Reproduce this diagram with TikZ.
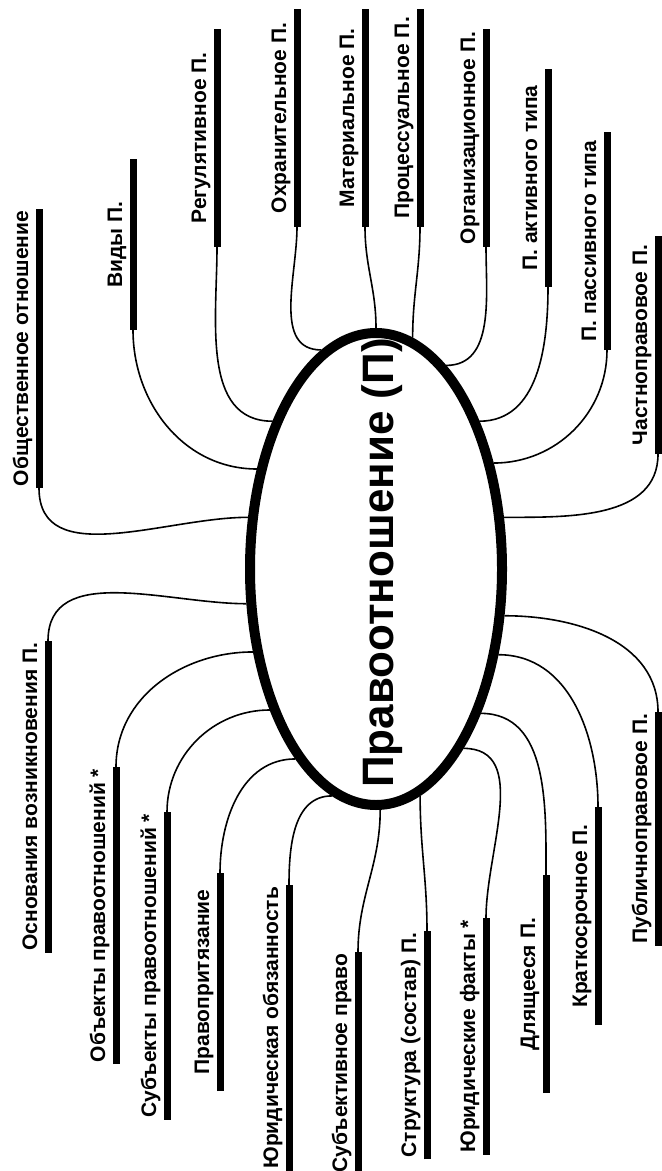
\documentclass[tikz,border=0pt]{standalone}
\usepackage{fontspec}
\setmainfont{Liberation Sans}
\usetikzlibrary{shapes.geometric}

\begin{document}
\begin{tikzpicture}[x=0.5pt,y=0.5pt,
  topic/.style={rotate=90,font=\bfseries\fontsize{10.5}{12}\selectfont,inner xsep=1pt,inner ysep=5.5pt,text depth=0pt,minimum width=109pt,outer sep=0pt},
  hub/.style={draw,ellipse,line width=5pt,minimum width=126pt,minimum height=236pt},
  bar/.style={line width=3.5pt},
  link/.style={line width=0.8pt}]
\useasboundingbox (0,0) rectangle (662,-1171);

\node[hub] (pravo) at (376,-569) {}; %centre
\node[rotate=90,font=\bfseries\fontsize{22}{26}\selectfont] (pravotitle) at (382,-563) {Правоотношение (П)};

% upper branches
\node[topic,anchor=south west] (obsch) at (39,-488) {Общественное отношение};
\node[topic,anchor=south west,minimum width=85.5pt] (vidy) at (133,-330) {Виды П.};
\node[topic,anchor=south west] (regul) at (217,-247) {Регулятивное П.};
\node[topic,anchor=south west] (ohran) at (297,-227) {Охранительное П.};
\node[topic,anchor=south west] (mater) at (365,-227) {Материальное П.};
\node[topic,anchor=south west] (proc) at (420,-227) {Процессуальное П.};
\node[topic,anchor=south west] (org) at (486,-247) {Организационное П.};
\node[topic,anchor=south west] (aktiv) at (548,-287) {П. активного типа};
\node[topic,anchor=south west] (passiv) at (607,-350) {П. пассивного типа};
\node[topic,anchor=south west] (chastn) at (658,-454) {Частноправовое П.};

% lower branches
\node[topic,anchor=south east] (osnov) at (48,-641) {Основания возникновения П.};
\node[topic,anchor=south east] (obekt) at (116,-767) {Объекты правоотношений *};
\node[topic,anchor=south east] (subekt) at (167,-812) {Субъекты правоотношений *};
\node[topic,anchor=south east] (prityaz) at (220,-873) {Правопритязание};
\node[topic,anchor=south east] (obyaz) at (289,-885) {Юридическая обязанность};
\node[topic,anchor=south east] (subpravo) at (358,-952) {Субъективное право};
\node[topic,anchor=south east] (struct) at (427,-931) {Структура (состав) П.};
\node[topic,anchor=south east] (fakty) at (486,-918) {Юридические факты *};
\node[topic,anchor=south east] (dlyasch) at (546,-875) {Длящееся П.};
\node[topic,anchor=south east] (kratk) at (598,-807) {Краткосрочное П.};
\node[topic,anchor=south east] (publ) at (658,-712) {Публичноправовое П.};

% underlines
\foreach \t in {obsch,vidy,regul,ohran,mater,proc,org,aktiv,passiv,chastn,
  osnov,obekt,subekt,prityaz,obyaz,subpravo,struct,fakty,dlyasch,kratk,publ}
  \draw[bar] (\t.south west) -- (\t.south east);

% links up
\draw[link] (obsch.south west) to[out=-90,in=180] (pravo.158);
\draw[link] (vidy.south west) to[out=-90,in=180] (pravo.140);
\draw[link] (regul.south west) to[out=-90,in=180] (pravo.125);
\draw[link] (ohran.south west) to[out=-90,in=180] (pravo.104);
\draw[link] (mater.south west) to[out=-90,in=90] (pravo.90);
\draw[link] (proc.south west) to[out=-90,in=90] (pravo.81);
\draw[link] (org.south west) to[out=-90,in=0] (pravo.71);
\draw[link] (aktiv.south west) to[out=-90,in=0] (pravo.55);
\draw[link] (passiv.south west) to[out=-90,in=0] (pravo.42);
\draw[link] (chastn.south west) to[out=-90,in=0] (pravo.22);

% links down
\draw[link] (osnov.south east) to[out=90,in=180] (pravo.195);
\draw[link] (obekt.south east) to[out=90,in=180] (pravo.214);
\draw[link] (subekt.south east) to[out=90,in=180] (pravo.233);
\draw[link] (prityaz.south east) to[out=90,in=180] (pravo.247);
\draw[link] (obyaz.south east) to[out=90,in=180] (pravo.259);
\draw[link] (subpravo.south east) to[out=90,in=-90] (pravo.271);
\draw[link] (struct.south east) to[out=90,in=-90] (pravo.281);
\draw[link] (fakty.south east) to[out=90,in=0] (pravo.296);
\draw[link] (dlyasch.south east) to[out=90,in=0] (pravo.306);
\draw[link] (kratk.south east) to[out=90,in=0] (pravo.325);
\draw[link] (publ.south east) to[out=90,in=0] (pravo.340);

\end{tikzpicture}
\end{document}
